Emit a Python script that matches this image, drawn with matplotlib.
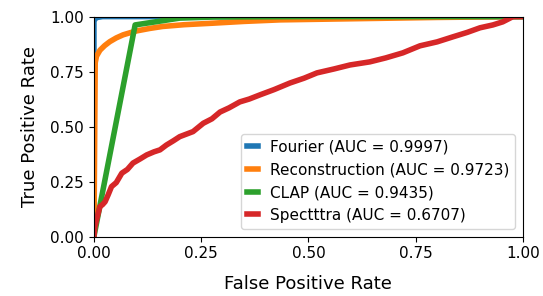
import matplotlib
matplotlib.use("Agg")
import matplotlib.pyplot as plt

# ROC curves
fourier_fpr = [0.0, 0.0, 0.005, 0.02, 1.0]
fourier_tpr = [0.0, 0.98, 0.995, 1.0, 1.0]

recon_fpr = [0.0, 0.003, 0.006, 0.014, 0.025, 0.037, 0.052, 0.068, 0.085, 0.10, 0.13, 0.16, 0.21, 0.278, 0.35, 0.434, 0.6, 0.8, 1.0]
recon_tpr = [0.0, 0.79, 0.82, 0.847, 0.868, 0.886, 0.903, 0.917, 0.927, 0.935, 0.946, 0.955, 0.963, 0.97, 0.978, 0.985, 0.99, 0.996, 1.0]

clap_fpr = [0.0, 0.096, 0.20, 0.28, 0.5, 1.0]
clap_tpr = [0.0, 0.962, 0.993, 0.998, 1.0, 1.0]

spec_fpr = [0.0, 0.002, 0.006, 0.014, 0.02, 0.026, 0.033, 0.041, 0.052, 0.065, 0.078, 0.091, 0.107,
            0.123, 0.14, 0.154, 0.169, 0.185, 0.20, 0.231, 0.255, 0.275, 0.294, 0.315, 0.34, 0.362,
            0.387, 0.42, 0.457, 0.49, 0.52, 0.56, 0.597, 0.643, 0.68, 0.72, 0.76, 0.80, 0.837,
            0.87, 0.90, 0.93, 0.953, 0.977, 1.0]
spec_tpr = [0.0, 0.04, 0.075, 0.136, 0.145, 0.158, 0.189, 0.227, 0.245, 0.288, 0.305, 0.334, 0.352,
            0.371, 0.385, 0.394, 0.416, 0.435, 0.454, 0.477, 0.515, 0.535, 0.566, 0.585, 0.612, 0.625,
            0.644, 0.668, 0.698, 0.72, 0.744, 0.762, 0.78, 0.794, 0.812, 0.835, 0.867, 0.885, 0.908,
            0.928, 0.949, 0.962, 0.976, 1.0, 1.0]

labels = ["Fourier (AUC = 0.9997)", "Reconstruction (AUC = 0.9723)",
          "CLAP (AUC = 0.9435)", "Spectttra (AUC = 0.6707)"]
colors = ["#1f77b4", "#ff7f0e", "#2ca02c", "#d62728"]

fig = plt.figure(figsize=(5.43, 2.96), dpi=100)
ax = fig.add_axes([0.173, 0.201, 0.790, 0.743])

curves = [(fourier_fpr, fourier_tpr), (recon_fpr, recon_tpr),
          (clap_fpr, clap_tpr), (spec_fpr, spec_tpr)]
for (x, y), lab, c in zip(curves, labels, colors):
    ax.plot(x, y, color=c, lw=4, label=lab)

ax.set_xlim(0, 1)
ax.set_ylim(0, 1)
ax.set_xticks([0, 0.25, 0.5, 0.75, 1.0])
ax.set_yticks([0, 0.25, 0.5, 0.75, 1.0])
ax.tick_params(labelsize=11)
ax.set_xlabel("False Positive Rate", fontsize=13, labelpad=10)
ax.set_ylabel("True Positive Rate", fontsize=13, labelpad=8)
ax.legend(loc="lower right", fontsize=11, handlelength=0.7)

fig.savefig("out.png", dpi=100)
